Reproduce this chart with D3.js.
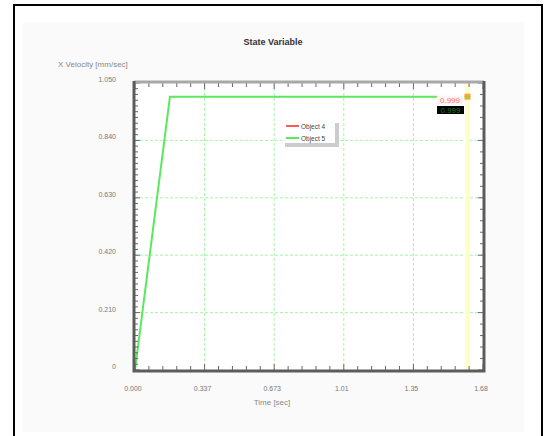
<!DOCTYPE html>
<html>
<head>
<meta charset="utf-8">
<script src="https://cdn.jsdelivr.net/npm/d3@7/dist/d3.min.js"></script>
<style>
  body { margin: 0; background: #fff; }
  svg { display: block; font-family: "Liberation Sans", Arial, sans-serif; }
</style>
</head>
<body>
<div id="chart"></div>
<script>
const timeValues = [0, 0.169, 1.46];
const object5Values = [0, 1.0, 1.0];
const legendNames = ['Object 4', 'Object 5'];
const legendColors = ['#ff5a5a', '#5ce85c'];
const yTickValues = [0, 0.21, 0.42, 0.63, 0.84, 1.05];
const yTickLabels = ['0', '0.210', '0.420', '0.630', '0.840', '1.050'];
const xTickValues = [0, 0.3366, 0.6732, 1.0098, 1.3464, 1.683];
const xTickLabels = ['0.000', '0.337', '0.673', '1.01', '1.35', '1.68'];
const cursorTime = 1.608;
const cursorValue = 1.0;
const cursorLabel = '0.999';

const width = 544, height = 436;
const plot = { left: 135, right: 483, top: 83, bottom: 370 };

const svg = d3.select('#chart').append('svg').attr('width', width).attr('height', height);

// outer frame + panel
svg.append('rect').attr('x', 0).attr('y', 0).attr('width', width).attr('height', height).attr('fill', '#fff');
svg.append('rect').attr('x', 14).attr('y', 5).attr('width', 528).attr('height', 445)
  .attr('fill', 'none').attr('stroke', '#000').attr('stroke-width', 2);
svg.append('rect').attr('x', 23).attr('y', 22).attr('width', 501).attr('height', 410).attr('fill', '#fafafa');

const x = d3.scaleLinear().domain([0, 1.683]).range([plot.left, plot.right]);
const y = d3.scaleLinear().domain([0, 1.05]).range([plot.bottom, plot.top]);

svg.append('rect').attr('x', plot.left).attr('y', plot.top)
  .attr('width', plot.right - plot.left).attr('height', plot.bottom - plot.top).attr('fill', '#fff');

// grid
const grid = svg.append('g').attr('stroke', '#a6f5a6').attr('stroke-dasharray', '3,2').attr('stroke-width', 1);
xTickValues.slice(1, -1).forEach((v) => {
  grid.append('line').attr('x1', x(v)).attr('x2', x(v)).attr('y1', plot.top).attr('y2', plot.bottom);
});
yTickValues.slice(1, -1).forEach((v) => {
  grid.append('line').attr('x1', plot.left).attr('x2', plot.right).attr('y1', y(v)).attr('y2', y(v));
});

// cursor band
svg.append('rect').attr('x', x(cursorTime) - 2.5).attr('y', plot.top)
  .attr('width', 5).attr('height', plot.bottom - plot.top).attr('fill', '#ffffc8');

// data line
const pts = timeValues.map((t, i) => [x(t), y(object5Values[i])]);
svg.append('path').attr('d', d3.line()(pts)).attr('fill', 'none')
  .attr('stroke', legendColors[1]).attr('stroke-width', 2);

// cursor readout
svg.append('rect').attr('x', x(cursorTime) - 3).attr('y', y(cursorValue) - 3).attr('width', 6).attr('height', 6).attr('fill', '#f7a832');
svg.append('line').attr('x1', x(cursorTime) - 3).attr('x2', x(cursorTime) + 3)
  .attr('y1', y(cursorValue)).attr('y2', y(cursorValue)).attr('stroke', '#8bd24a').attr('stroke-width', 1);
svg.append('rect').attr('x', 437).attr('y', y(cursorValue) - 1).attr('width', 26).attr('height', 9).attr('fill', '#fff4f4');
svg.append('text').attr('x', 450).attr('y', y(cursorValue) + 6.5).attr('text-anchor', 'middle')
  .attr('font-size', 8).attr('fill', '#ff7070').text(cursorLabel);
svg.append('rect').attr('x', 437).attr('y', 106).attr('width', 27).attr('height', 8).attr('fill', '#000');
svg.append('text').attr('x', 450.5).attr('y', 113).attr('text-anchor', 'middle')
  .attr('font-size', 8).attr('fill', '#1c7a1c').text(cursorLabel);

// minor/major ticks
const ticks = svg.append('g').attr('stroke', '#666').attr('stroke-width', 1);
d3.range(0, 51).forEach((i) => {
  const v = i * 0.021, major = i % 10 === 0;
  ticks.append('line').attr('x1', plot.left).attr('x2', plot.left + (major ? 5 : 3)).attr('y1', y(v)).attr('y2', y(v));
});
d3.range(0, 26).forEach((i) => {
  const v = i * 0.042, major = i % 5 === 0;
  ticks.append('line').attr('x1', plot.right).attr('x2', plot.right - (major ? 5 : 3)).attr('y1', y(v)).attr('y2', y(v));
});
d3.range(0, 26).forEach((i) => {
  const v = i * 0.06732, major = i % 5 === 0;
  ticks.append('line').attr('x1', x(v)).attr('x2', x(v)).attr('y1', plot.bottom).attr('y2', plot.bottom - (major ? 6 : 4));
  ticks.append('line').attr('x1', x(v)).attr('x2', x(v)).attr('y1', plot.top).attr('y2', plot.top + (major ? 6 : 4));
});

// frame
svg.append('line').attr('x1', plot.left - 1).attr('x2', plot.right + 1).attr('y1', plot.top - 1).attr('y2', plot.top - 1)
  .attr('stroke', '#a8a8a8').attr('stroke-width', 3);
svg.append('path')
  .attr('d', `M${plot.left - 1},${plot.top - 2}V${plot.bottom + 1}H${plot.right + 1}V${plot.top - 2}`)
  .attr('fill', 'none').attr('stroke', '#5c5c5c').attr('stroke-width', 3);

// tick labels
svg.append('g').selectAll('text').data(yTickValues).join('text')
  .attr('x', 116).attr('y', (d) => y(d) - 1).attr('text-anchor', 'end')
  .attr('font-size', 7).attr('fill', '#777').text((d, i) => yTickLabels[i]);
svg.append('g').selectAll('text').data(xTickValues).join('text')
  .attr('x', (d) => x(d) - 2).attr('y', 391).attr('text-anchor', 'middle')
  .attr('font-size', 7).attr('fill', '#777').text((d, i) => xTickLabels[i]);

// titles
svg.append('text').attr('x', 273).attr('y', 45).attr('text-anchor', 'middle')
  .attr('font-size', 9).attr('font-weight', 'bold').attr('fill', '#333').text('State Variable');
svg.append('text').attr('x', 58).attr('y', 67)
  .attr('font-size', 8).attr('fill', '#888').text('X Velocity [mm/sec]');
svg.append('text').attr('x', 272).attr('y', 405).attr('text-anchor', 'middle')
  .attr('font-size', 8).attr('fill', '#888').text('Time [sec]');

// legend
const lg = svg.append('g').attr('transform', 'translate(282,120)');
lg.append('rect').attr('x', 3).attr('y', 3).attr('width', 54).attr('height', 24).attr('fill', '#cccccc');
lg.append('rect').attr('x', 0).attr('y', 0).attr('width', 53).attr('height', 23).attr('fill', '#fff');
legendNames.forEach((name, i) => {
  lg.append('line').attr('x1', 4).attr('x2', 17).attr('y1', 6 + i * 12).attr('y2', 6 + i * 12)
    .attr('stroke', legendColors[i]).attr('stroke-width', 2);
  lg.append('text').attr('x', 19).attr('y', 8.5 + i * 12).attr('font-size', 6.5).attr('fill', '#444').text(name);
});
</script>
</body>
</html>
